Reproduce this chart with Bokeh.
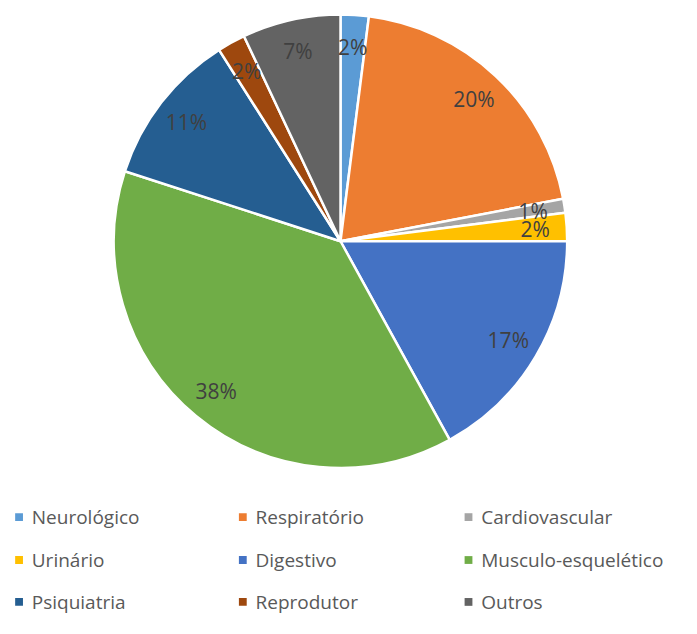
import math
from bokeh.plotting import figure
from bokeh.models import Range1d, ColumnDataSource
from bokeh.core.properties import value
from bokeh.embed import file_html
from bokeh.resources import INLINE

categories = ["Neurológico", "Respiratório", "Cardiovascular", "Urinário", "Digestivo",
              "Musculo-esquelético", "Psiquiatria", "Reprodutor", "Outros"]
percent = [2, 20, 1, 2, 17, 38, 11, 2, 7]
colors = ["#5B9BD5", "#ED7D31", "#A5A5A5", "#FFC000", "#4472C4",
          "#70AD47", "#255E91", "#9E480E", "#636363"]

W, H = 681, 618
RW, RH = 697, 634  # reference canvas coordinate frame
p = figure(width=W, height=H, output_backend="svg", toolbar_location=None,
           x_range=Range1d(0, RW), y_range=Range1d(0, RH))
p.axis.visible = False
p.grid.visible = False
p.outline_line_color = None
p.min_border = 0
p.background_fill_color = "white"

# pie geometry (data_y = RH - ref_y)
cx, cy, R = 348, RH - 247, 232
total = sum(percent)
starts, ends, lx, ly, labels = [], [], [], [], []
cum = 0.0
for v in percent:
    a0 = math.pi / 2 - 2 * math.pi * (cum + v) / total
    a1 = math.pi / 2 - 2 * math.pi * cum / total
    starts.append(a0)
    ends.append(a1)
    mid = (a0 + a1) / 2
    r = 0.86 * R
    lx.append(cx + r * math.cos(mid))
    ly.append(cy + r * math.sin(mid))
    labels.append(f"{round(v / total * 100)}%")
    cum += v

src = ColumnDataSource(dict(start=starts, end=ends, color=colors, lx=lx, ly=ly, label=labels))
p.wedge(x=cx, y=cy, radius=R, start_angle="start", end_angle="end",
        fill_color="color", line_color="white", line_width=2.5, source=src)
p.text(x="lx", y="ly", text="label", source=src, text_align="center",
       text_baseline="middle", text_color="#404040", text_font=value("Open Sans"),
       text_font_size="21px")

# legend grid
col_x = [19, 248, 479]
row_y = [530, 574, 617]
mx, my, tx = [], [], []
for i in range(len(categories)):
    c, r_ = i % 3, i // 3
    mx.append(col_x[c])
    my.append(RH - row_y[r_])
    tx.append(col_x[c] + 13)
lsrc = ColumnDataSource(dict(mx=mx, my=my, tx=tx, name=categories, color=colors))
p.rect(x="mx", y="my", width=8, height=8, fill_color="color", line_color=None, source=lsrc)
p.text(x="tx", y="my", text="name", source=lsrc, text_align="left", text_baseline="middle",
       text_color="#595959", text_font=value("Open Sans"), text_font_size="19px")

open("out.html", "w").write(file_html(p, INLINE))
